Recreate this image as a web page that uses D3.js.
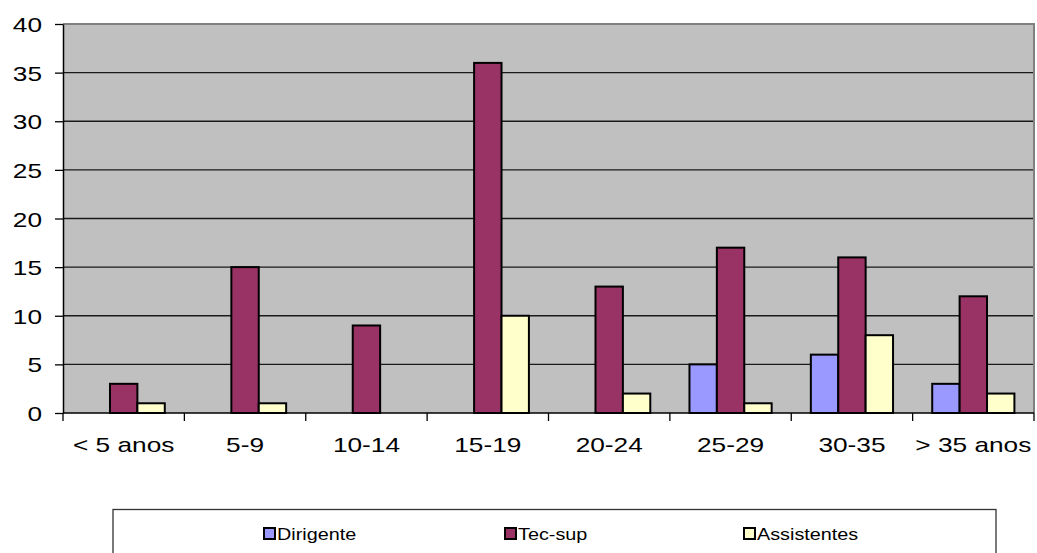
<!DOCTYPE html>
<html>
<head>
<meta charset="utf-8">
<script src="https://cdn.jsdelivr.net/npm/d3@7"></script>
<style>
  html, body { margin: 0; padding: 0; background: #fff; }
  svg { display: block; font-family: "Liberation Sans", Arial, sans-serif; }
</style>
</head>
<body>
<svg id="chart" width="1037" height="553"></svg>
<script>
// Years-of-service bands and head counts per staff group
const categories = ["< 5 anos", "5-9", "10-14", "15-19", "20-24", "25-29", "30-35", "> 35 anos"];
const seriesNames = ["Dirigente", "Tec-sup", "Assistentes"];
const dirigente = [0, 0, 0, 0, 0, 5, 6, 3];
const tecSup = [3, 15, 9, 36, 13, 17, 16, 12];
const assistentes = [1, 1, 0, 10, 2, 1, 8, 2];
const yTicks = [0, 5, 10, 15, 20, 25, 30, 35, 40];
const colors = ["#9999ff", "#993366", "#ffffcc"];

const series = [dirigente, tecSup, assistentes];

// Text in this chart is drawn horizontally widened
const AXIS_STRETCH = 1.25;
const LEGEND_STRETCH = 1.2;

const svg = d3.select("#chart");
const plot = { left: 63, right: 1034, top: 24, bottom: 413 };

const x = d3.scaleBand().domain(categories).range([plot.left, plot.right]).paddingInner(0).paddingOuter(0);
const x1 = d3.scaleBand().domain(seriesNames).range([0, x.bandwidth()]).paddingInner(0).paddingOuter(0.715);
const y = d3.scaleLinear().domain([0, 40]).range([plot.bottom, plot.top]);

// Plot background
svg.append("rect")
  .attr("x", plot.left).attr("y", plot.top)
  .attr("width", plot.right - plot.left).attr("height", plot.bottom - plot.top)
  .attr("fill", "#c0c0c0");

// Horizontal gridlines
svg.append("g").selectAll("line")
  .data(yTicks.filter(t => t > 0 && t < 40))
  .join("line")
  .attr("x1", plot.left).attr("x2", plot.right)
  .attr("y1", d => y(d)).attr("y2", d => y(d))
  .attr("stroke", "#1a1a1a").attr("stroke-width", 1.3);

// Plot border (top and right)
svg.append("path")
  .attr("d", `M${plot.left},${plot.top}H${plot.right}V${plot.bottom}`)
  .attr("fill", "none").attr("stroke", "#808080").attr("stroke-width", 2);

// Bars
const groups = svg.append("g").selectAll("g")
  .data(categories)
  .join("g")
  .attr("transform", d => `translate(${x(d)},0)`);

groups.selectAll("rect")
  .data((c, i) => seriesNames.map((s, k) => ({ s, k, v: series[k][i] })).filter(d => d.v > 0))
  .join("rect")
  .attr("x", d => x1(d.s))
  .attr("y", d => y(d.v))
  .attr("width", x1.bandwidth())
  .attr("height", d => y(0) - y(d.v))
  .attr("fill", d => colors[d.k])
  .attr("stroke", "#000")
  .attr("stroke-width", 2);

// Y axis
const yAxis = d3.axisLeft(y).tickValues(yTicks).tickSize(8).tickSizeOuter(0);
const gy = svg.append("g").attr("transform", `translate(${plot.left},0)`).call(yAxis);
gy.select(".domain").attr("stroke", "#000").attr("stroke-width", 1.5);
gy.selectAll(".tick line").attr("stroke", "#000").attr("stroke-width", 1.3);
gy.selectAll(".tick text")
  .attr("x", null).attr("dy", null)
  .attr("transform", `translate(-21,7.5) scale(${AXIS_STRETCH},1)`)
  .attr("text-anchor", "end")
  .attr("font-size", 21).attr("fill", "#000")
  .attr("font-family", "'Liberation Sans', Arial, sans-serif");

// X axis: ticks on band boundaries, labels centered in bands
const gx = svg.append("g").attr("transform", `translate(0,${plot.bottom})`);
gx.append("line").attr("x1", plot.left).attr("x2", plot.right).attr("y1", 0).attr("y2", 0)
  .attr("stroke", "#000").attr("stroke-width", 1.5);
const boundaries = categories.map(c => x(c)).concat([plot.right]);
gx.selectAll("line.tk").data(boundaries).join("line").attr("class", "tk")
  .attr("x1", d => d).attr("x2", d => d).attr("y1", 0).attr("y2", 8)
  .attr("stroke", "#000").attr("stroke-width", 1.3);
gx.selectAll("text").data(categories).join("text")
  .attr("transform", d => `translate(${x(d) + x.bandwidth() / 2},39) scale(${AXIS_STRETCH},1)`)
  .attr("text-anchor", "middle")
  .attr("font-size", 21)
  .attr("fill", "#000")
  .text(d => d);

// Legend
svg.append("rect")
  .attr("x", 113).attr("y", 509.5).attr("width", 883).attr("height", 60)
  .attr("fill", "#fff").attr("stroke", "#333").attr("stroke-width", 1.3);
const legendX = [263, 504, 743];
const lg = svg.append("g").selectAll("g").data(seriesNames).join("g")
  .attr("transform", (d, i) => `translate(${legendX[i]},528)`);
lg.append("rect").attr("x", 1).attr("y", 0).attr("width", 11).attr("height", 11)
  .attr("fill", (d, i) => colors[i]).attr("stroke", "#000").attr("stroke-width", 2);
lg.append("text")
  .attr("transform", `translate(14,12) scale(${LEGEND_STRETCH},1)`)
  .attr("font-size", 16.5).attr("fill", "#000").text(d => d);
</script>
</body>
</html>
